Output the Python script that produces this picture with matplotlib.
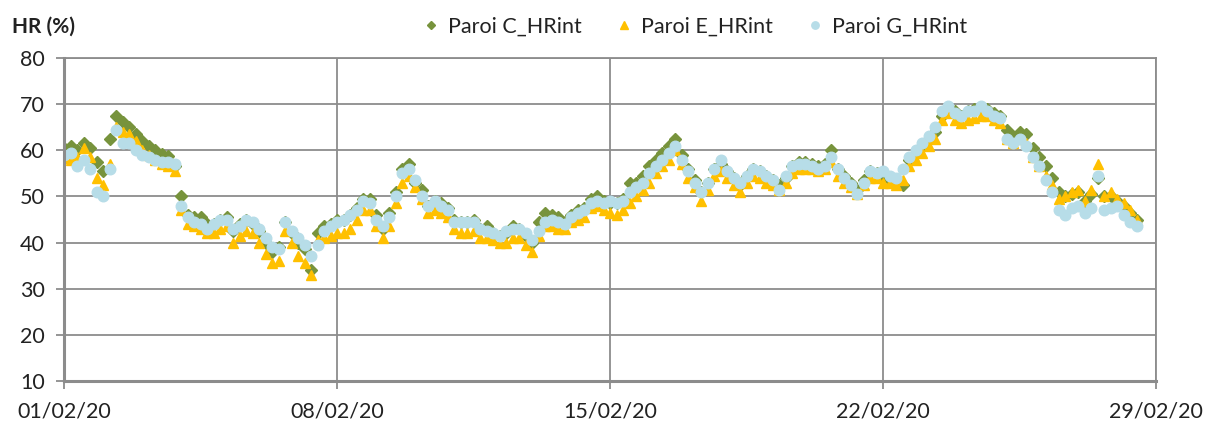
import matplotlib
matplotlib.use("Agg")
import matplotlib.pyplot as plt
import matplotlib.dates as mdates
import pandas as pd

# Relative humidity inside three walls, Feb 2020, one reading every 4 hours
start = "2020-02-01 00:00"
step = "4h"

paroi_c = [
    # 01/02 - 07/02
    60.5, 61.0, 60.0, 61.5, 60.5, 57.5,
    55.5, 62.5, 67.5, 66.2, 65.0, 63.5,
    62.0, 61.0, 60.0, 59.3, 58.8, 56.5,
    50.0, 46.0, 45.5, 45.5, 44.0, 44.0,
    45.0, 45.5, 42.5, 44.0, 45.0, 44.0,
    42.5, 40.0, 38.0, 39.0, 44.5, 42.0,
    40.0, 38.5, 34.0, 42.0, 43.5, 44.0,
    # 08/02 - 14/02
    45.0, 45.0, 46.0, 47.5, 49.5, 49.5,
    46.0, 43.0, 46.5, 51.0, 56.0, 57.0,
    53.0, 51.5, 48.0, 49.0, 48.5, 47.5,
    45.0, 44.5, 44.5, 45.0, 43.0, 43.5,
    42.0, 41.5, 42.0, 43.5, 43.0, 41.5,
    40.0, 44.5, 46.5, 46.0, 45.5, 44.5,
    46.0, 47.0, 47.5, 49.5, 50.0, 49.0,
    # 15/02 - 21/02
    48.5, 48.5, 49.5, 53.0, 53.0, 54.5,
    56.5, 58.0, 59.5, 61.0, 62.5, 59.0,
    56.0, 53.5, 51.0, 53.0, 56.0, 57.0,
    55.5, 54.0, 52.5, 54.5, 56.0, 55.5,
    54.5, 53.5, 52.5, 54.0, 56.5, 57.5,
    57.5, 57.0, 56.5, 57.0, 60.0, 56.0,
    54.5, 53.0, 51.5, 53.5, 55.5, 55.0,
    # 22/02 - 28/02
    54.0, 53.5, 53.0, 52.5, 58.0, 59.5,
    61.0, 62.5, 64.0, 67.5, 69.0, 68.5,
    67.5, 68.5, 69.0, 69.0, 69.0, 68.0,
    67.5, 64.5, 63.0, 64.0, 63.5, 60.5,
    58.5, 56.5, 54.0, 51.0, 50.0, 50.5,
    51.0, 49.0, 50.5, 54.0, 50.0, 50.0,
    49.0, 48.0, 46.5, 45.0,
]

paroi_e = [
    58.3, 58.0, 58.5, 60.5, 58.5, 54.0,
    52.5, 57.0, 65.0, 64.0, 63.5, 62.0,
    60.0, 59.0, 58.0, 57.0, 56.5, 55.5,
    47.0, 44.0, 43.5, 43.0, 42.0, 42.0,
    43.0, 43.5, 40.0, 41.5, 42.5, 42.0,
    40.0, 37.5, 35.5, 36.0, 42.5, 40.0,
    37.0, 35.5, 33.0, 40.5, 41.0, 41.5,
    42.0, 42.0, 43.0, 45.0, 47.0, 47.0,
    43.5, 41.0, 43.5, 48.5, 53.0, 54.5,
    52.0, 49.5, 46.5, 47.0, 46.5, 45.5,
    43.0, 42.0, 42.0, 42.5, 41.0, 41.0,
    40.5, 40.0, 40.0, 41.0, 41.0, 39.5,
    38.0, 41.5, 43.5, 43.5, 43.0, 43.0,
    44.5, 45.0, 45.5, 47.5, 48.0, 47.0,
    46.5, 46.0, 47.0, 48.5, 50.0, 51.5,
    53.0, 55.0, 56.5, 58.0, 60.0, 57.0,
    54.0, 52.0, 49.0, 51.5, 54.5, 55.5,
    54.0, 52.5, 51.0, 53.0, 54.5, 54.0,
    53.0, 52.5, 51.5, 53.0, 55.0, 56.0,
    56.0, 56.0, 55.5, 56.0, 57.5, 54.5,
    53.0, 52.0, 50.5, 52.5, 54.0, 54.0,
    53.0, 53.0, 52.5, 53.5, 56.5, 58.0,
    59.5, 61.0, 62.5, 66.5, 68.0, 66.5,
    66.0, 66.5, 67.0, 67.5, 67.5, 66.5,
    66.0, 62.5, 61.5, 62.5, 61.5, 58.5,
    56.5, 54.5, 52.5, 49.5, 50.0, 51.0,
    51.5, 49.0, 51.5, 57.0, 50.0, 51.0,
    49.5, 48.5, 47.0, 45.0,
]

paroi_g = [
    59.0, 59.5, 56.5, 58.0, 56.0, 51.0,
    50.0, 56.0, 64.5, 61.5, 61.5, 60.0,
    59.0, 58.5, 58.0, 57.5, 57.5, 57.0,
    48.0, 45.5, 44.5, 44.0, 43.0, 44.0,
    45.0, 45.0, 43.0, 43.5, 45.0, 44.5,
    43.0, 41.0, 39.0, 38.5, 44.5, 42.5,
    41.0, 39.5, 37.0, 39.5, 42.5, 43.5,
    44.5, 45.0, 46.0, 47.0, 49.0, 48.5,
    45.0, 43.5, 45.5, 50.0, 55.0, 56.0,
    53.5, 50.0, 48.0, 49.0, 48.0, 47.0,
    44.5, 44.5, 44.5, 44.5, 43.0, 42.5,
    42.0, 41.5, 42.5, 43.0, 43.0, 42.0,
    40.5, 42.5, 44.5, 45.0, 44.5, 44.0,
    45.5, 46.5, 47.0, 48.5, 49.0, 48.5,
    49.0, 48.5, 49.0, 51.0, 52.0, 53.0,
    55.0, 56.5, 58.0, 59.5, 61.0, 58.0,
    55.5, 53.0, 51.0, 53.0, 56.0, 58.0,
    55.5, 54.0, 53.0, 54.5, 56.0, 55.5,
    54.5, 53.5, 51.5, 54.5, 56.5, 57.0,
    57.0, 56.5, 56.0, 56.5, 58.5, 56.0,
    54.0, 52.5, 50.5, 53.0, 55.5, 55.0,
    55.5, 54.5, 54.0, 56.0, 58.5, 60.0,
    61.5, 63.0, 65.0, 68.5, 69.5, 68.0,
    67.5, 68.5, 68.5, 69.5, 68.5, 67.5,
    67.0, 62.5, 61.5, 62.5, 61.0, 58.5,
    56.5, 53.5, 51.0, 47.0, 46.0, 47.5,
    48.0, 46.5, 47.5, 54.5, 47.0, 47.5,
    48.0, 46.0, 44.5, 43.5,
]

series_labels = ["Paroi C_HRint", "Paroi E_HRint", "Paroi G_HRint"]
week_ticks = ["2020-02-01", "2020-02-08", "2020-02-15", "2020-02-22", "2020-02-29"]
y_ticks = [10, 20, 30, 40, 50, 60, 70, 80]

GRID = "#8c8c8c"
TXT = "#222222"
FONT = ["Lato", "DejaVu Sans"]

plt.rcParams["font.family"] = FONT

times = pd.date_range(start, periods=len(paroi_c), freq=step)

fig = plt.figure(figsize=(12.12, 4.26), dpi=100)
ax = fig.add_axes([64 / 1212, 1 - 381 / 426, (1156 - 64) / 1212, (381 - 58) / 426])

ax.plot(times, paroi_c, linestyle="none", marker="D", markersize=6.2,
        color="#77933C", label=series_labels[0])
ax.plot(times, paroi_e, linestyle="none", marker="^", markersize=7.4,
        color="#FFC000", label=series_labels[1])
ax.plot(times, paroi_g, linestyle="none", marker="o", markersize=7.6,
        color="#B7DDE8", label=series_labels[2])

xt = pd.to_datetime(week_ticks)
ax.set_xlim(xt[0], xt[-1])
ax.set_xticks(xt)
ax.xaxis.set_major_formatter(mdates.DateFormatter("%d/%m/%y"))
ax.set_ylim(10, 80)
ax.set_yticks(y_ticks)

ax.grid(True, color=GRID, linewidth=1.3)
ax.set_axisbelow(True)
for s in ax.spines.values():
    s.set_color(GRID)
    s.set_linewidth(1.3)
ax.spines["left"].set_linewidth(2.2)
ax.spines["bottom"].set_linewidth(2.2)
ax.tick_params(axis="both", colors=GRID, length=6, width=1.3,
               labelcolor=TXT, labelsize=15.5)
ax.tick_params(axis="x", pad=9)
ax.tick_params(axis="y", pad=8)

fig.text(12 / 1212, 1 - 27 / 426, "HR (%)", fontsize=15, fontweight="bold",
         color=TXT, va="center", ha="left")

fig.legend(loc="center", bbox_to_anchor=(0.573, 1 - 27 / 426), ncol=3,
           frameon=False, fontsize=15.5, markerscale=0.7, handlelength=0.8,
           handletextpad=0.4, columnspacing=1.55, labelcolor=TXT)

fig.savefig("out.png", dpi=100, facecolor="white")
